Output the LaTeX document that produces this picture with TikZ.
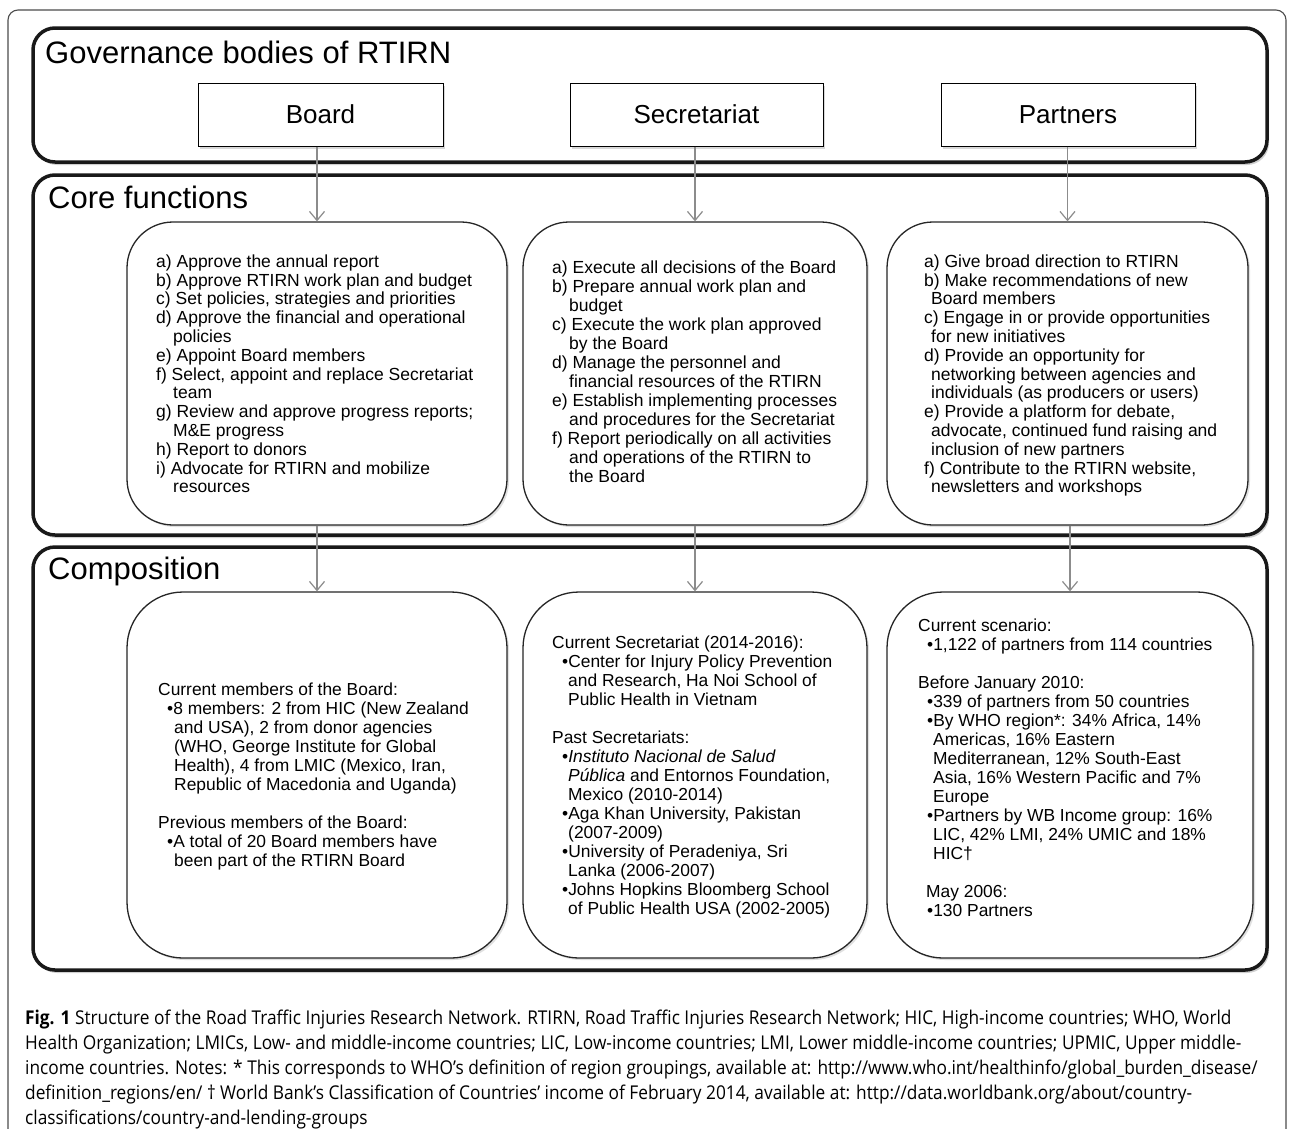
\documentclass[tikz,border=0pt]{standalone}
\usepackage{fontspec}
\usepackage{graphicx}
\setmainfont{Liberation Sans}
\newfontfamily\capfont[FakeStretch=0.91]{Open Sans}
\usetikzlibrary{arrows.meta,shadows}
\begin{document}
\begin{tikzpicture}[x=1pt,y=-1pt,
  frame/.style={draw=black!70, line width=1.1pt, rounded corners=10pt},
  section/.style={draw=black!90, line width=3.5pt, rounded corners=22pt, inner sep=0pt, fill=white,
     drop shadow={shadow xshift=2pt, shadow yshift=-3pt, opacity=0.3, fill=black!60}},
  body/.style={draw=black, line width=1pt, inner sep=0pt, fill=white,
     drop shadow={shadow xshift=2pt, shadow yshift=-3pt, opacity=0.25, fill=black!60}},
  fbox/.style={draw=black!85, line width=1.3pt, rounded corners=46pt, inner sep=0pt, fill=white,
     drop shadow={shadow xshift=2pt, shadow yshift=-2pt, opacity=0.2, fill=black!60}},
  cbox/.style={draw=black!85, line width=1.3pt, rounded corners=56pt, inner sep=0pt, fill=white,
     drop shadow={shadow xshift=2pt, shadow yshift=-2pt, opacity=0.2, fill=black!60}},
  title/.style={font=\fontsize{31}{36}\selectfont, anchor=base west, inner sep=0pt},
  bodytxt/.style={font=\fontsize{26}{30}\selectfont},
  list/.style={anchor=north west, align=left, inner sep=0pt, font=\fontsize{17.5}{18.8}\selectfont},
  slist/.style={anchor=north west, align=left, inner sep=0pt, font=\fontsize{17.5}{19}\selectfont},
  clist/.style={anchor=north west, align=left, inner sep=0pt, font=\fontsize{17.4}{19}\selectfont},
  arr/.style={draw=black!45, line width=1.4pt, -{Straight Barb[length=9pt,width=15pt,line width=1.2pt]}},
  captxt/.style={anchor=north west, align=left, inner sep=0pt, font=\capfont\fontsize{19}{25}\selectfont}
]
\useasboundingbox (0,0) rectangle (1290,1128);
\fill[white] (0,0) rectangle (1290,1128);

% outer frame
\draw[frame] (8,1160) -- (8,10) -- (1286,10) -- (1286,1160);

% section boxes
\node[section, minimum width=1234pt, minimum height=134pt] (gov) at (650,95) {};
\node[section, minimum width=1234pt, minimum height=360pt] (core) at (650,355) {};
\node[section, minimum width=1234pt, minimum height=423pt] (comp) at (650,758.5) {};

\node[title] (govt) at (45,63) {Governance bodies of RTIRN};
\node[title] (coret) at (48,208) {Core functions};
\node[title] (compt) at (48,579) {Composition};

% governance bodies
\node[body, bodytxt, minimum width=245pt, minimum height=63pt] (board) at (320.5,114.5) {Board};
\node[body, bodytxt, minimum width=253pt, minimum height=63pt] (secr) at (696.5,114.5) {Secretariat};
\node[body, bodytxt, minimum width=254pt, minimum height=63pt] (part) at (1068,114.5) {Partners};

% core function boxes
\node[fbox, minimum width=380pt, minimum height=303pt] (cfb) at (317,373.5) {};
\node[fbox, minimum width=344pt, minimum height=303pt] (cfs) at (695,373.5) {};
\node[fbox, minimum width=361pt, minimum height=303pt] (cfp) at (1067.5,373.5) {};

% composition boxes
\node[cbox, minimum width=380pt, minimum height=366pt] (cob) at (317,775) {};
\node[cbox, minimum width=344pt, minimum height=366pt] (cos) at (695,775) {};
\node[cbox, minimum width=366pt, minimum height=366pt] (cop) at (1070,775) {};

% arrows
\draw[arr] (board.south -| cfb.north) -- (cfb.north);
\draw[arr] (secr.south -| cfs.north) -- (cfs.north);
\draw[arr] (part.south -| cfp.north) -- (cfp.north);
\draw[arr] (cfb.south) -- (cob.north);
\draw[arr] (cfs.south) -- (cos.north);
\draw[arr] (cfp.south -| cop.north) -- (cop.north);

% core texts
\node[list] (tcb) at (156,254.5) {a) Approve the annual report\\
b) Approve RTIRN work plan and budget\\
c) Set policies, strategies and priorities\\
d) Approve the financial and operational\\
\hspace*{17pt}policies\\
e) Appoint Board members\\
f) Select, appoint and replace Secretariat\\
\hspace*{17pt}team\\
g) Review and approve progress reports;\\
\hspace*{17pt}M\&E progress\\
h) Report to donors\\
i) Advocate for RTIRN and mobilize\\
\hspace*{17pt}resources};

\node[slist] (tcs) at (552,260.5) {a) Execute all decisions of the Board\\
b) Prepare annual work plan and\\
\hspace*{17pt}budget\\
c) Execute the work plan approved\\
\hspace*{17pt}by the Board\\
d) Manage the personnel and\\
\hspace*{17pt}financial resources of the RTIRN\\
e) Establish implementing processes\\
\hspace*{17pt}and procedures for the Secretariat\\
f) Report periodically on all activities\\
\hspace*{17pt}and operations of the RTIRN to\\
\hspace*{17pt}the Board};

\node[list] (tcp) at (924,254.5) {a) Give broad direction to RTIRN\\
b) Make recommendations of new\\
\hspace*{7pt}Board members\\
c) Engage in or provide opportunities\\
\hspace*{7pt}for new initiatives\\
d) Provide an opportunity for\\
\hspace*{7pt}networking between agencies and\\
\hspace*{7pt}individuals (as producers or users)\\
e) Provide a platform for debate,\\
\hspace*{7pt}advocate, continued fund raising and\\
\hspace*{7pt}inclusion of new partners\\
f) Contribute to the RTIRN website,\\
\hspace*{7pt}newsletters and workshops};

% composition texts
\node[clist] (tob) at (158,682.5) {Current members of the Board:\\
\hspace*{9pt}•8 members: 2 from HIC (New Zealand\\
\hspace*{16pt}and USA), 2 from donor agencies\\
\hspace*{16pt}(WHO, George Institute for Global\\
\hspace*{16pt}Health), 4 from LMIC (Mexico, Iran,\\
\hspace*{16pt}Republic of Macedonia and Uganda)\\[19pt]
Previous members of the Board:\\
\hspace*{9pt}•A total of 20 Board members have\\
\hspace*{16pt}been part of the RTIRN Board};

\node[clist] (tos) at (552,635.5) {Current Secretariat (2014-2016):\\
\hspace*{10pt}•Center for Injury Policy Prevention\\
\hspace*{16pt}and Research, Ha Noi School of\\
\hspace*{16pt}Public Health in Vietnam\\[19pt]
Past Secretariats:\\
\hspace*{10pt}•\textit{Instituto Nacional de Salud}\\
\hspace*{16pt}\textit{Pública} and Entornos Foundation,\\
\hspace*{16pt}Mexico (2010-2014)\\
\hspace*{10pt}•Aga Khan University, Pakistan\\
\hspace*{16pt}(2007-2009)\\
\hspace*{10pt}•University of Peradeniya, Sri\\
\hspace*{16pt}Lanka (2006-2007)\\
\hspace*{10pt}•Johns Hopkins Bloomberg School\\
\hspace*{16pt}of Public Health USA (2002-2005)};

\node[clist] (top) at (918,618.5) {Current scenario:\\
\hspace*{9pt}•1,122 of partners from 114 countries\\[19pt]
Before January 2010:\\
\hspace*{9pt}•339 of partners from 50 countries\\
\hspace*{9pt}•By WHO region*: 34\% Africa, 14\%\\
\hspace*{15pt}Americas, 16\% Eastern\\
\hspace*{15pt}Mediterranean, 12\% South-East\\
\hspace*{15pt}Asia, 16\% Western Pacific and 7\%\\
\hspace*{15pt}Europe\\
\hspace*{9pt}•Partners by WB Income group: 16\%\\
\hspace*{15pt}LIC, 42\% LMI, 24\% UMIC and 18\%\\
\hspace*{15pt}HIC†\\[19pt]
\hspace*{8pt}May 2006:\\
\hspace*{9pt}•130 Partners};

% caption
\node[captxt] (cap) at (25,1009.5) {\textbf{Fig. 1} Structure of the Road Traffic Injuries Research Network. RTIRN, Road Traffic Injuries Research Network; HIC, High-income countries; WHO, World\\
Health Organization; LMICs, Low- and middle-income countries; LIC, Low-income countries; LMI, Lower middle-income countries; UPMIC, Upper middle-\\
income countries. Notes: * This corresponds to WHO’s definition of region groupings, available at: http://www.who.int/healthinfo/global\_burden\_disease/\\
definition\_regions/en/ † World Bank’s Classification of Countries’ income of February 2014, available at: http://data.worldbank.org/about/country-\\
classifications/country-and-lending-groups};
\end{tikzpicture}
\end{document}
